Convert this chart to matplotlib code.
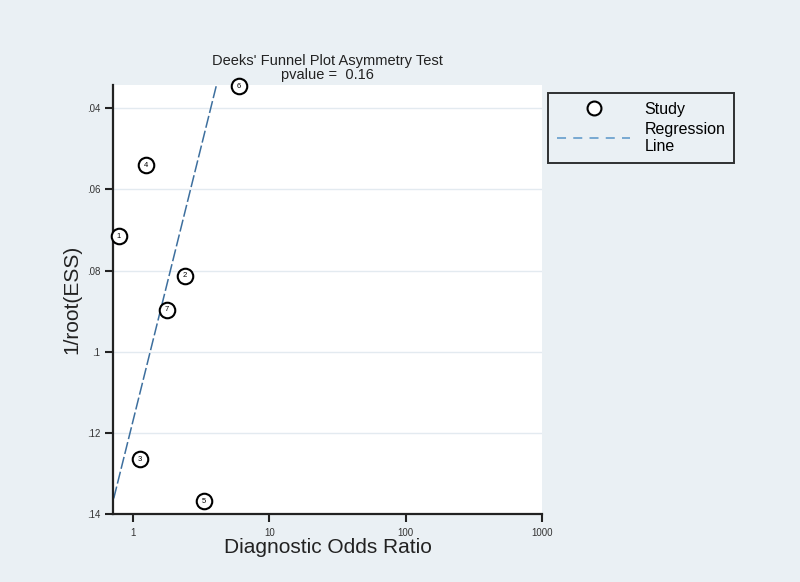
import matplotlib
matplotlib.use("Agg")
import matplotlib.pyplot as plt
import numpy as np
from matplotlib.lines import Line2D

plt.rcParams["font.family"] = ["Liberation Sans", "DejaVu Sans"]

# study data
study_ids = ["1", "2", "3", "4", "5", "6", "7"]
dor = [0.79, 2.41, 1.13, 1.25, 3.30, 6.0, 1.78]
inv_root_ess = [0.0716, 0.0813, 0.1265, 0.0541, 0.1368, 0.0346, 0.0897]

# regression line: log10(DOR) = intercept + slope * 1/root(ESS)
reg_intercept = 0.866
reg_slope = -7.40

y_ticks = [0.04, 0.06, 0.08, 0.10, 0.12, 0.14]
y_tick_labels = [".04", ".06", ".08", ".1", ".12", ".14"]
x_ticks = [1, 10, 100, 1000]
x_tick_labels = ["1", "10", "100", "1000"]

BG = "#eaf0f4"
LINE_COLOR = "#3d6f9e"

fig = plt.figure(figsize=(8, 5.82), dpi=100, facecolor=BG)
ax = fig.add_axes([0.14125, 0.1168, 0.53625, 0.7371])
ax.set_facecolor("white")

ax.set_xscale("log")
ax.set_xlim(0.713, 1000)
ax.set_ylim(0.14, 0.0343)

for yt in y_ticks[:-1]:
    ax.axhline(yt, color="#e3eaf0", lw=1.0, zorder=0)

# regression line over the range of the data
yy = np.linspace(min(inv_root_ess), max(inv_root_ess), 50)
xx = 10 ** (reg_intercept + reg_slope * yy)
ax.plot(xx, yy, color=LINE_COLOR, lw=1.1, ls=(0, (8, 2)), zorder=2)

ax.scatter(dor, inv_root_ess, s=125, facecolors="white", edgecolors="black",
           linewidths=1.5, zorder=3, clip_on=False)
for sid, x, y in zip(study_ids, dor, inv_root_ess):
    ax.text(x, y, sid, fontsize=5.5, ha="center", va="center", zorder=4)

ax.set_yticks(y_ticks)
ax.set_yticklabels(y_tick_labels, fontsize=7, color="#333333")
ax.set_xticks(x_ticks)
ax.set_xticklabels(x_tick_labels, fontsize=7, color="#333333")
ax.xaxis.set_minor_locator(matplotlib.ticker.NullLocator())
ax.tick_params(axis="both", direction="out", length=6, width=1.5, color="#222222")
ax.tick_params(axis="x", pad=4)
ax.tick_params(axis="y", pad=3)

for side in ["top", "right"]:
    ax.spines[side].set_visible(False)
for side in ["left", "bottom"]:
    ax.spines[side].set_linewidth(1.6)
    ax.spines[side].set_color("#222222")

ax.set_xlabel("Diagnostic Odds Ratio", fontsize=15, labelpad=0, color="#222222")
ax.set_ylabel("1/root(ESS)", fontsize=15, labelpad=4, color="#222222")
ax.set_title("Deeks' Funnel Plot Asymmetry Test\npvalue =  0.16", fontsize=10.5,
             linespacing=1.0, pad=4, color="#222222")

handles = [
    Line2D([], [], marker="o", ls="none", markersize=10, markerfacecolor="white",
           markeredgecolor="black", markeredgewidth=1.5),
    Line2D([], [], color="#6fa3cf", lw=1.3, ls=(0, (5, 4))),
]
leg = fig.legend(handles, ["Study", "Regression\nLine"], loc="upper left",
                 bbox_to_anchor=(548 / 800, 1 - 93 / 582), fontsize=11.5,
                 frameon=True, fancybox=False, facecolor=BG, edgecolor="black",
                 handlelength=4.6, handletextpad=0.9, borderpad=0.55,
                 labelspacing=0.3, borderaxespad=0)
leg.get_frame().set_linewidth(1.4)

fig.savefig("out.png", dpi=100, facecolor=BG)
